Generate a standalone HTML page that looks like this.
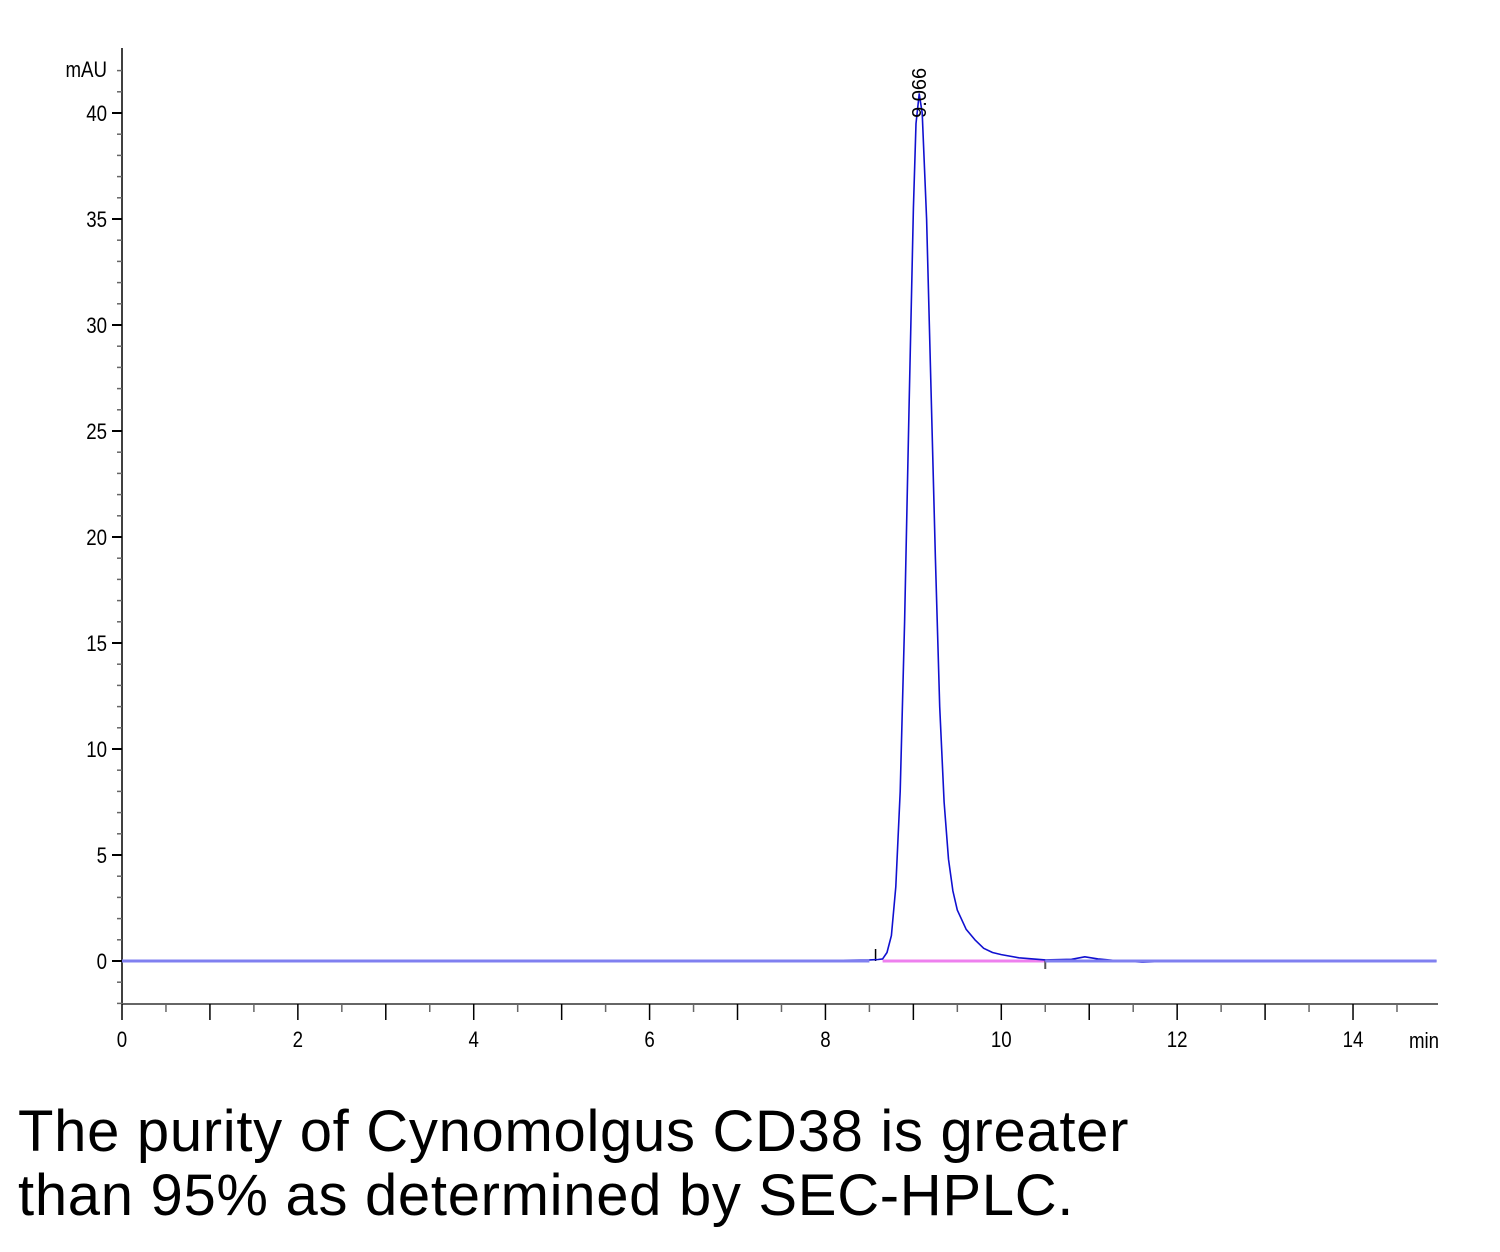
<!DOCTYPE html>
<html><head><meta charset="utf-8"><style>
body{margin:0;background:#fff;width:1500px;height:1252px;overflow:hidden;font-family:"Liberation Sans",sans-serif}
#cap{position:absolute;left:18px;top:1100px;font-size:58px;line-height:64px;letter-spacing:0.7px;color:#000;white-space:nowrap}
</style></head><body>
<svg id="chart" width="1500" height="1090" style="position:absolute;left:0;top:0"></svg>
<div id="cap">The purity of Cynomolgus CD38 is greater<br>than 95% as determined by SEC-HPLC.</div>
<script>
const times=[0,1.3,1.6,2.3,2.6,4,5,5.6,6,7,7.5,8,8.5,8.6,8.65,8.7,8.75,8.8,8.85,8.9,8.95,9.0,9.03,9.066,9.1,9.15,9.2,9.25,9.3,9.35,9.4,9.45,9.5,9.6,9.7,9.8,9.9,10.0,10.2,10.5,10.8,10.95,11.1,11.3,11.6,12,13,13.7,14.95];
const values=[0,0.02,-0.02,0.01,-0.02,0,-0.02,0.03,0.02,-0.02,0,0.02,0.05,0.07,0.1,0.4,1.2,3.5,8,16,26,35.5,39.5,40.9,40,35,27,19,12,7.5,4.8,3.3,2.4,1.5,1.0,0.6,0.4,0.3,0.15,0.05,0.08,0.2,0.1,0.02,-0.05,0,-0.02,-0.03,0];
const yTicks=[0,5,10,15,20,25,30,35,40];
const xTicks=[0,2,4,6,8,10,12,14];
const peakLabel="9.066", peakTime=9.066, peakHeight=40.9;
const baseStart=8.65, baseEnd=10.5;
const NS="http://www.w3.org/2000/svg";
const svg=document.getElementById('chart');
const X=t=>122+t*87.93, Y=v=>961-v*21.2;
function mk(tag,attrs,parent){const e=document.createElementNS(NS,tag);for(const k in attrs)e.setAttribute(k,attrs[k]);(parent||svg).appendChild(e);return e;}
let ya=mk('line',{x1:122,y1:48,x2:122,y2:1004,stroke:'#000','stroke-width':1.5});


let xa=mk('line',{x1:122,y1:1004,x2:1438,y2:1004,stroke:'#666','stroke-width':2});


for(let v=-2;v<=42;v++){const maj=v%5===0;const t=mk('line',{x1:maj?112:117,y1:Y(v),x2:122,y2:Y(v),stroke:maj?'#000':'#666','stroke-width':maj?2:1.5});

}
yTicks.forEach(v=>{const t=mk('text',{x:0,y:0,'text-anchor':'end','font-size':22,fill:'#000',transform:`translate(107,${Y(v)+8}) scale(0.85,1)`});t.textContent=v;

});
let yl=mk('text',{x:0,y:0,'text-anchor':'end','font-size':22,fill:'#000',transform:'translate(107,77) scale(0.85,1)'});yl.textContent='mAU';


for(let i=0;i<=29;i++){const t0=i*0.5;const maj=i%2===0;const t=mk('line',{x1:X(t0),y1:1004,x2:X(t0),y2:maj?1020:1012,stroke:maj?'#000':'#666','stroke-width':1.5});

}
xTicks.forEach(v=>{const t=mk('text',{x:0,y:0,'text-anchor':'middle','font-size':22,fill:'#000',transform:`translate(${X(v)},1047) scale(0.85,1)`});t.textContent=v;

});
let xl=mk('text',{x:0,y:0,'text-anchor':'middle','font-size':22,fill:'#000',transform:'translate(1424,1048) scale(0.85,1)'});xl.textContent='min';


let pb=mk('line',{x1:X(baseStart),y1:Y(0),x2:X(baseEnd),y2:Y(0),stroke:'#ee80ee','stroke-width':3});


let m1=mk('line',{x1:X(8.57),y1:Y(0),x2:X(8.57),y2:Y(0)-12,stroke:'#000','stroke-width':1.5});


let m2=mk('line',{x1:X(baseEnd),y1:Y(0),x2:X(baseEnd),y2:Y(0)+8,stroke:'#555','stroke-width':2});


let d=times.map((t,i)=>(i?'L':'M')+X(t).toFixed(1)+','+Y(values[i]).toFixed(1)).join(' ');
let tr=mk('path',{d:d,fill:'none',stroke:'#1010d0','stroke-width':1.6,'stroke-linejoin':'round'});


let bl=mk('line',{x1:X(0),y1:Y(0),x2:X(8.5),y2:Y(0),stroke:'#8080f0','stroke-width':3});


let br=mk('line',{x1:X(10.5),y1:Y(0),x2:X(14.95),y2:Y(0),stroke:'#8080f0','stroke-width':3});


let pl=mk('text',{x:0,y:0,'font-size':20,fill:'#000','text-anchor':'start',transform:`translate(${X(peakTime)+7},${Y(peakHeight)+24}) rotate(-90)`});pl.textContent=peakLabel;


</script>
</body></html>
